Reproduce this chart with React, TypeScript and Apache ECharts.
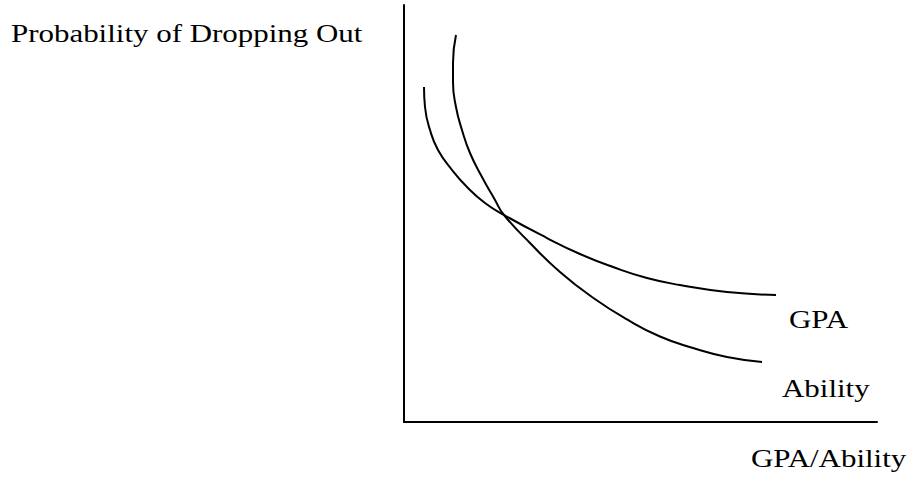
import React, { useEffect, useRef } from "react";
import * as echarts from "echarts";

// Conceptual curves (units: 0–100 on both axes)
const gpaX = [4.23, 4.44, 5.5, 7.19, 10.15, 13.32, 17.12, 21.14, 30.23, 37.21, 44.19, 51.37, 58.35, 68.29, 78.65];
const gpaY = [80.34, 75.54, 70.02, 65.23, 60.43, 56.35, 52.52, 49.64, 44.12, 40.29, 37.17, 34.53, 32.85, 31.18, 30.46];
const abilityX = [10.99, 10.36, 10.36, 10.99, 12.26, 13.95, 16.49, 19.24, 21.14, 26.64, 32.98, 39.96, 47.15, 54.12, 61.1, 68.29, 75.69];
const abilityY = [92.81, 86.09, 81.53, 75.54, 70.02, 64.51, 58.75, 53.24, 49.64, 42.93, 35.97, 29.8, 24.6, 20.5, 17.75, 15.59, 14.39];

const yAxisTitle = "Probability of Dropping Out";
const xAxisTitle = "GPA/Ability";
const seriesNames = ["GPA", "Ability"];

const FONT = "Liberation Serif";

export default function App() {
  const ref = useRef<HTMLDivElement>(null);
  useEffect(() => {
    if (!ref.current) return;
    const chart = echarts.init(ref.current, null, { renderer: "svg" });
    const zip = (xs: number[], ys: number[]) => xs.map((x, i) => [x, ys[i]]);
    const axisCommon = {
      type: "value" as const,
      min: 0,
      max: 100,
      axisLine: { show: true, lineStyle: { color: "#000", width: 2 } },
      axisTick: { show: false },
      axisLabel: { show: false },
      splitLine: { show: false },
    };
    const label = (text: string, x: number, y: number) => ({
      type: "text",
      x,
      y,
      scaleX: 1.19,
      style: {
        text,
        x: 0,
        y: 0,
        fontFamily: FONT,
        fontSize: 26,
        fill: "#000",
        textAlign: "left",
        textVerticalAlign: "middle",
      },
    });
    chart.setOption({
      animation: false,
      backgroundColor: "#fff",
      grid: { left: 404, right: 36, top: 5, bottom: 59 },
      xAxis: { ...axisCommon },
      yAxis: { ...axisCommon },
      series: [
        {
          name: seriesNames[0],
          type: "line",
          data: zip(gpaX, gpaY),
          smooth: 0.5,
          symbol: "none",
          lineStyle: { color: "#000", width: 2 },
        },
        {
          name: seriesNames[1],
          type: "line",
          data: zip(abilityX, abilityY),
          smooth: 0.5,
          symbol: "none",
          lineStyle: { color: "#000", width: 2 },
        },
      ],
      graphic: [
        label(yAxisTitle, 11, 33),
        label(seriesNames[0], 789, 319),
        label(seriesNames[1], 782, 388),
        label(xAxisTitle, 751, 458),
      ],
    });
    return () => chart.dispose();
  }, []);
  return (
    <div
      ref={ref}
      style={{ position: "fixed", left: 0, top: 0, width: 913, height: 481 }}
    />
  );
}
